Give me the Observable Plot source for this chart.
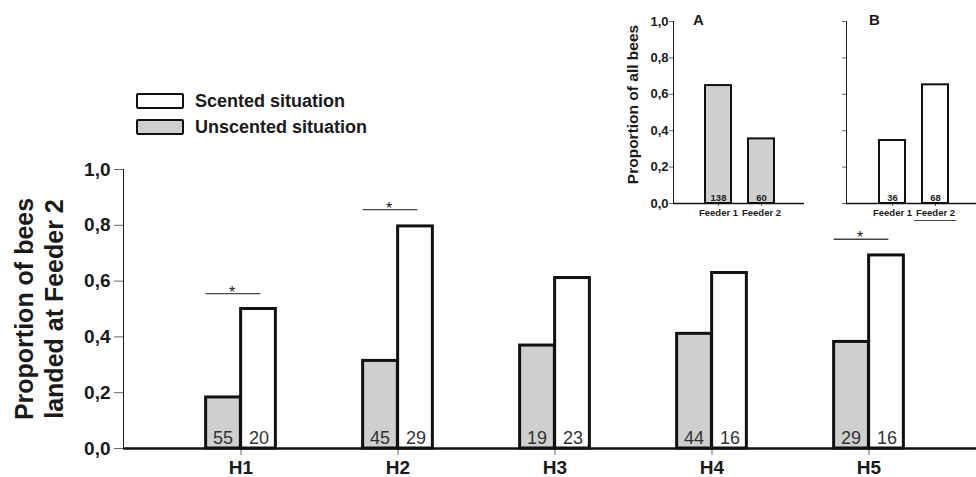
<!DOCTYPE html>
<html>
<head>
<meta charset="utf-8">
<script src="https://cdn.jsdelivr.net/npm/d3@7"></script>
<script src="https://cdn.jsdelivr.net/npm/@observablehq/plot@0.6"></script>
<style>
  body { margin: 0; background: #fff; }
  #wrap { position: relative; width: 976px; height: 477px; font-family: "Liberation Sans", Arial, sans-serif; color: #1a1a1a; }
  #wrap > div { position: absolute; }
  #main { left: 0; top: 0; }
  #insetA { left: 600px; top: 0; }
  #insetB { left: 806px; top: 0; }
  g[aria-label="y-axis tick"], g[aria-label="x-axis tick"] { stroke: #666; }
  #insetA g[aria-label="x-axis tick label"], #insetB g[aria-label="x-axis tick label"] { font-size: 9.5px; }
  .leg { position: absolute; left: 136px; width: 48px; height: 16px; box-sizing: border-box; border: 2.5px solid #111; border-radius: 2px; }
  .legt { position: absolute; left: 195px; font-size: 18px; font-weight: bold; line-height: 18px; }
</style>
</head>
<body>
<div id="wrap">
  <div id="main"></div>
  <div id="insetA"></div>
  <div id="insetB"></div>
  <div class="leg" style="top:93px;background:#fff"></div>
  <div class="legt" style="top:92px">Scented situation</div>
  <div class="leg" style="top:119px;background:#cfcfcf"></div>
  <div class="legt" style="top:118px">Unscented situation</div>
</div>
<script>
// ---- data: main chart ----
const categories = ["H1", "H2", "H3", "H4", "H5"];
const unscented = [0.183, 0.314, 0.369, 0.411, 0.382];
const scented = [0.50, 0.796, 0.611, 0.629, 0.692];
const nUnscented = [55, 45, 19, 44, 29];
const nScented = [20, 29, 23, 16, 16];
const sigCats = ["H1", "H2", "H5"];
const sigLevel = [0.555, 0.856, 0.75];
const yTicks = [0, 0.2, 0.4, 0.6, 0.8, 1.0];
const mainTitle = "Proportion of bees\nlanded at Feeder 2";

// ---- data: insets ----
const feeders = ["Feeder 1", "Feeder 2"];
const propA = [0.648, 0.355];
const propB = [0.346, 0.652];
const countsA = [138, 60];
const countsB = [36, 68];
const insetTitle = "Proportion of all bees";

const fmt = d => d.toFixed(1).replace(".", ",");
const GRAY = "#cfcfcf", INK = "#111";

// main chart
const half = 853 / (5 + 0.424) / 2; // half band width
const main = Plot.plot({
  width: 976, height: 477,
  marginLeft: 123, marginRight: 0, marginTop: 169, marginBottom: 29,
  style: {fontFamily: "Liberation Sans, Arial, sans-serif", fontSize: "19px", fontWeight: "bold", background: "transparent", overflow: "visible", color: "#1a1a1a"},
  x: {domain: categories, paddingInner: 0, paddingOuter: 0.212, align: 0.577, tickSize: 7, tickPadding: 5, label: null},
  y: {domain: [0, 1], ticks: yTicks, tickFormat: fmt, tickSize: 9, tickPadding: 4, line: true, label: null},
  marks: [
    Plot.barY(unscented, {x: (d, i) => categories[i], y: d => d, insetLeft: half - 35, insetRight: half, fill: GRAY, stroke: INK, strokeWidth: 3}),
    Plot.barY(scented, {x: (d, i) => categories[i], y: d => d, insetLeft: half, insetRight: half - 35, fill: "#fff", stroke: INK, strokeWidth: 3}),
    Plot.ruleY([0], {stroke: INK, strokeWidth: 2.5}),
    Plot.text(nUnscented, {x: (d, i) => categories[i], y: 0, text: d => String(d), dx: -18, dy: -5, lineAnchor: "bottom", fontSize: 18, fontWeight: "normal", fill: "#333"}),
    Plot.text(nScented, {x: (d, i) => categories[i], y: 0, text: d => String(d), dx: 18, dy: -5, lineAnchor: "bottom", fontSize: 18, fontWeight: "normal", fill: "#333"}),
    Plot.tickY(sigLevel, {x: (d, i) => sigCats[i], y: d => d, insetLeft: half - 35, insetRight: half - 20, stroke: "#444", strokeWidth: 1.3}),
    Plot.text(sigLevel, {x: (d, i) => sigCats[i], y: d => d, text: () => "*", dx: -9, dy: 4, lineAnchor: "bottom", fontSize: 16, fontWeight: "normal", fill: "#222"}),
    Plot.text([mainTitle], {frameAnchor: "left", dx: -85, rotate: -90, fontSize: 25, fontWeight: "bold", lineHeight: 1.2, lineAnchor: "middle", textAnchor: "middle", fill: "#1a1a1a"})
  ]
});
document.getElementById("main").appendChild(main);

function inset(id, width, marginLeft, props, counts, fill, letter, letterDx, showLabels, align, extra) {
  const chart = Plot.plot({
    width, height: 230,
    marginLeft, marginRight: 0, marginTop: 21, marginBottom: 27,
    style: {fontFamily: "Liberation Sans, Arial, sans-serif", fontSize: "13px", fontWeight: "bold", background: "transparent", overflow: "visible", color: "#1a1a1a"},
    x: {domain: feeders, paddingInner: 0.4, paddingOuter: 0.69, align, tickSize: 3, tickPadding: 3, label: null},
    y: {domain: [0, 1], ticks: yTicks, tickFormat: showLabels ? fmt : () => "", tickSize: 4, tickPadding: 1, line: true, label: null},
    marks: [
      Plot.barY(props, {x: (d, i) => feeders[i], y: d => d, fill, stroke: INK, strokeWidth: 2}),
      Plot.ruleY([0], {stroke: INK, strokeWidth: 1.5}),
      Plot.text(counts, {x: (d, i) => feeders[i], y: 0, text: d => String(d), dy: -3, lineAnchor: "bottom", fontSize: 9.5, fontWeight: "bold", fill: "#222"}),
      Plot.text([letter], {frameAnchor: "top-left", dx: letterDx, dy: -1, textAnchor: "middle", lineAnchor: "middle", fontSize: 15, fontWeight: "bold"}),
      ...extra
    ]
  });
  document.getElementById(id).appendChild(chart);
}

inset("insetA", 204, 73, propA, countsA, GRAY, "A", 25, true, 0.51, [
  Plot.text([insetTitle], {frameAnchor: "left", dx: -40, dy: -8, rotate: -90, fontSize: 15.5, fontWeight: "bold", textAnchor: "middle", lineAnchor: "middle"})
]);
inset("insetB", 170, 40, propB, countsB, "#fff", "B", 28, false, 0.544, [
  Plot.tickY([0], {x: () => feeders[1], y: 0, dy: 17, insetLeft: -8, insetRight: -8, stroke: "#444", strokeWidth: 1})
]);
</script>
</body>
</html>
